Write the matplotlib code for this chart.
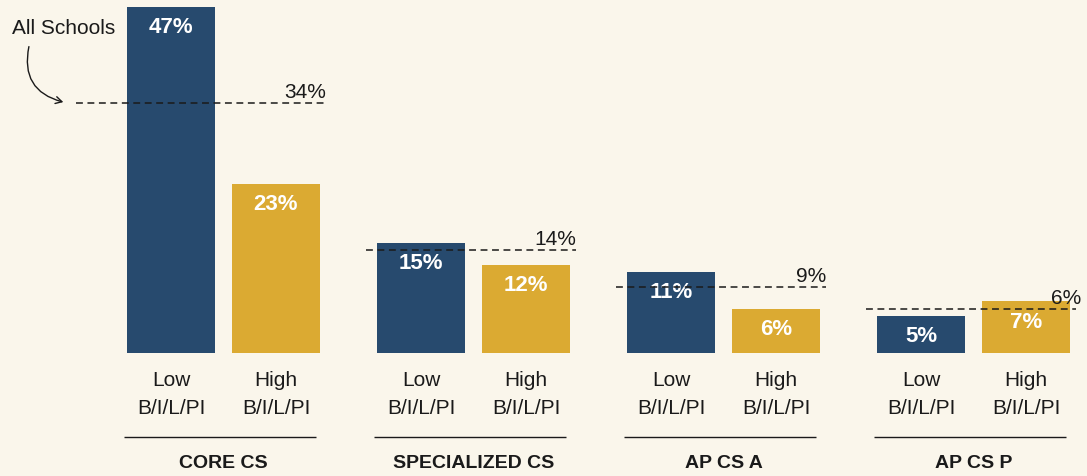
#!/usr/bin/env python3

import numpy as np
import matplotlib.pyplot as plt

# data
categories = ["CORE CS", "SPECIALIZED CS", "AP CS A", "AP CS P"]
low_values = [47, 15, 11, 5]
high_values = [23, 12, 6, 7]
all_schools = [34, 14, 9, 6]
bar_labels = ["Low", "High"]
bar_sublabel = "B/I/L/PI"

BG = "#faf6eb"
NAVY = "#274a6e"
GOLD = "#dbaa32"
INK = "#1a1a1a"

plt.rcParams["font.family"] = ["Liberation Sans", "DejaVu Sans"]

fig = plt.figure(figsize=(10.87, 4.77), dpi=100, facecolor=BG)
ax = fig.add_axes([0, 0, 1, 1])
ax.set_facecolor(BG)
ax.set_xlim(-0.894, 3.454)
ax.set_ylim(-16.71, 48.1)
ax.axis("off")

x = np.arange(len(categories))
offset = 0.21
width = 0.352
ax.bar(x - offset, low_values, width, color=NAVY)
ax.bar(x + offset, high_values, width, color=GOLD)

# value labels inside bars
for xs, vals in ((x - offset, low_values), (x + offset, high_values)):
    for xi, v in zip(xs, vals):
        ax.annotate(f"{v}%", (xi, v), xytext=(0, -6.5), textcoords="offset points",
                    ha="center", va="top", color="white", fontsize=16,
                    fontweight="bold")

# all-schools reference lines
for i, v in enumerate(all_schools):
    start = -0.59 if i == 0 else -0.43
    end = 0.41
    ax.hlines(v, i + start, i + end, colors=INK, linestyles=(0, (4.5, 3)),
              lw=1.1, zorder=3)
    ax.annotate(f"{v}%", (i + end + (0.02 if i == 3 else 0), v),
                xytext=(0, 4.5), textcoords="offset points", ha="right",
                va="baseline", color=INK, fontsize=15)

# bar labels, separators and category names
for i, cat in enumerate(categories):
    for j, lab in enumerate(bar_labels):
        xi = i + (2 * j - 1) * offset
        ax.text(xi, -4.35, lab, ha="center", va="baseline", fontsize=15,
                color=INK)
        ax.text(xi, -8.15, bar_sublabel, ha="center", va="baseline",
                fontsize=15, color=INK)
    ax.hlines(-11.41, i - 0.4, i + 0.37, colors=INK, lw=1)
    ax.text(i, -15.49, cat, ha="center", va="baseline", fontsize=14,
            fontweight="bold", color=INK)

# annotation
ax.text(-0.846, 43.5, "All Schools", ha="left", va="baseline", fontsize=15,
        color=INK)
ax.annotate("", xy=(-0.63, 34.0), xytext=(-0.776, 42.0),
            arrowprops=dict(arrowstyle="->,head_length=0.45,head_width=0.25",
                            connectionstyle="arc3,rad=0.5", color=INK, lw=1))

plt.savefig("out.png", dpi=100, facecolor=BG)
